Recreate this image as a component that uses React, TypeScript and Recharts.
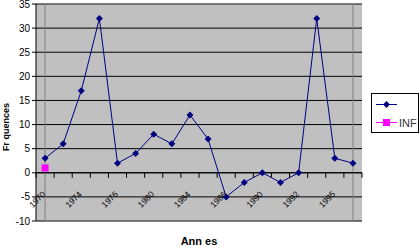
import { CartesianGrid, Legend, Line, LineChart, ReferenceArea, ReferenceLine, XAxis, YAxis } from 'recharts';

const annees = ['1970', '1972', '1974', '1975', '1976', '1978', '1980', '1982', '1984', '1985', '1986', '1988', '1990', '1991', '1992', '1994', '1995', '1996'];
const frequences = [3, 6, 17, 32, 2, 4, 8, 6, 12, 7, -5, -2, 0, -2, 0, 32, 3, 2];
const inf = [1, null, null, null, null, null, null, null, null, null, null, null, null, null, null, null, null, null];
const yTicks = [-10, -5, 0, 5, 10, 15, 20, 25, 30, 35];

const data = annees.map((a, i) => ({ annee: a, freq: frequences[i], inf: inf[i] }));

const FONT = '"Liberation Sans", Arial, sans-serif';
const PLOT_H = 217;
const STEP = 326 / 18;

const Diamond = (props: any) => {
  const { cx, cy } = props;
  if (cx == null || cy == null) return null;
  return <polygon points={`${cx},${cy - 3.5} ${cx + 3.5},${cy} ${cx},${cy + 3.5} ${cx - 3.5},${cy}`} fill="#000080" />;
};

const Carre = (props: any) => {
  const { cx, cy } = props;
  if (cx == null || cy == null) return null;
  return <rect x={cx - 3.5} y={cy - 3.5} width={7} height={7} fill="#ff00ff" />;
};

// axe des x dessiné sur la ligne du zéro
const XTick = (props: any) => {
  const { x, y, payload, index } = props;
  const zeroY = y - (PLOT_H * 10) / 45;
  const tx = x + 1;
  const ty = zeroY + 22;
  return (
    <g>
      <line x1={x - STEP / 2} x2={x - STEP / 2} y1={zeroY} y2={zeroY + 5} stroke="#000" />
      {index === annees.length - 1 && (
        <line x1={x + STEP / 2} x2={x + STEP / 2} y1={zeroY} y2={zeroY + 5} stroke="#000" />
      )}
      {index % 2 === 0 && (
        <text x={tx} y={ty} textAnchor="end" transform={`rotate(-45 ${tx} ${ty})`} fontSize={8.5} fontFamily={FONT} fill="#000">
          {payload.value}
        </text>
      )}
    </g>
  );
};

const YTitre = () => (
  <text x={9} y={127} textAnchor="middle" transform="rotate(-90 9 127)" fontSize={9} fontWeight="bold" fontFamily={FONT} fill="#000">
    Fr quences
  </text>
);

const Legende = () => (
  <svg width={46} height={38} style={{ display: 'block' }}>
    <line x1={4} x2={25} y1={10.5} y2={10.5} stroke="#000080" />
    <polygon points="14.5,7 18,10.5 14.5,14 11,10.5" fill="#000080" />
    <line x1={4} x2={25} y1={28.5} y2={28.5} stroke="#ff00ff" />
    <rect x={11} y={25} width={7} height={7} fill="#ff00ff" />
    <text x={27} y={33} fontSize={11} fontFamily={FONT} fill="#333">INF</text>
  </svg>
);

export default function App() {
  return (
    <div style={{ position: 'absolute', left: 0, top: 0, width: 420, height: 248, background: '#fff' }}>
      <LineChart width={420} height={248} data={data} margin={{ top: 4, right: 58, left: 0, bottom: 0 }}>
        <CartesianGrid vertical={false} stroke="#000" fill="#c0c0c0" fillOpacity={1} />
        <ReferenceArea y1={-10} y2={35} fill="none" stroke="#808080" />
        <ReferenceLine y={0} stroke="#000" />
        <XAxis
          dataKey="annee"
          interval={0}
          height={27}
          padding={{ left: STEP / 2, right: STEP / 2 }}
          axisLine={false}
          tickLine={false}
          tickSize={0}
          tickMargin={0}
          tick={<XTick />}
          label={{ value: 'Ann es', position: 'insideBottom', offset: 3, fontSize: 11, fontWeight: 'bold', fontFamily: FONT, fill: '#000' }}
        />
        <YAxis
          width={36}
          domain={[-10, 35]}
          ticks={yTicks}
          interval={0}
          tickSize={4}
          tickMargin={2}
          stroke="#000"
          tick={{ fontSize: 10, fontFamily: FONT, fill: '#000' }}
          label={<YTitre />}
        />
        <Legend
          layout="horizontal"
          verticalAlign="middle"
          align="center"
          content={<Legende />}
          wrapperStyle={{ position: 'absolute', left: 371, top: 93, width: 48, height: 40, border: '1px solid #000', background: '#fff', boxSizing: 'border-box' }}
        />
        <Line dataKey="freq" name=" " stroke="#000080" strokeWidth={1} dot={<Diamond />} activeDot={false} isAnimationActive={false} />
        <Line dataKey="inf" name="INF" stroke="#ff00ff" dot={<Carre />} activeDot={false} isAnimationActive={false} />
      </LineChart>
    </div>
  );
}
